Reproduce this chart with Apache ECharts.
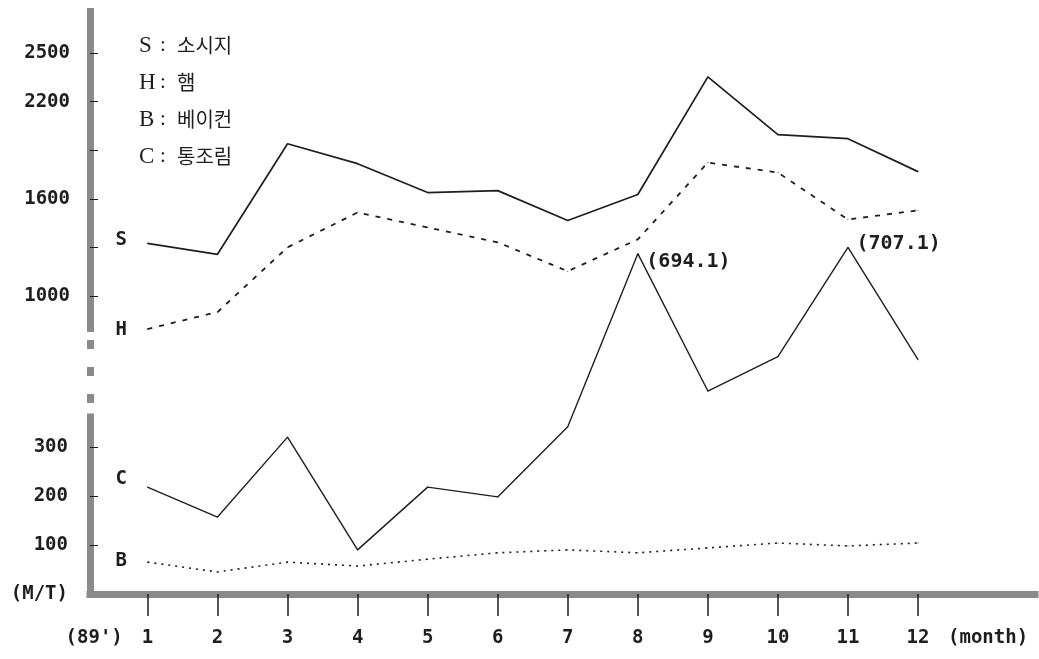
<!DOCTYPE html>
<html>
<head>
<meta charset="utf-8">
<script src="https://cdn.jsdelivr.net/npm/echarts@6/dist/echarts.min.js"></script>
<style>
html,body{margin:0;padding:0;background:#fff;}
#chart{width:1039px;height:659px;}
</style>
</head>
<body>
<div id="chart"></div>
<script>
// ---- data ----
var months = [1,2,3,4,5,6,7,8,9,10,11,12];
var sausage = [1326,1258,1940,1817,1639,1651,1467,1627,2352,1996,1971,1768]; // S
var ham     = [797,902,1301,1516,1424,1332,1154,1350,1824,1762,1473,1529];    // H
var canned  = [218,157,320,90,218,198,341,694.1,414,484,707.1,478];          // C
var bacon   = [65,45,65,57,71,84,90,84,94,104,98,104];                        // B
var upperTicks = [1000,1300,1600,1900,2200,2500];
var upperLabels = [1000,1600,2200,2500];
var lowerTicks = [100,200,300];
var lowerLabels = [0,100,200,300];
var xLabelValues = [0.24,1,2,3,4,5,6,7,8,9,10,11,12,13];
var legendKeys = ['S','H','B','C'];
var legendNames = ['소시지','햄','베이컨','통조림'];
var seriesTags = ['S','H','C','B'];

var ink = '#1e1e1e';
var axisGray = '#8a8a8a';
var monoFont = 'DejaVu Sans Mono';

function pairs(vals){ return months.map(function(m,i){ return [m, vals[i]]; }); }
function withLabels(vals, tag, tagOffset, notes){
  return pairs(vals).map(function(p,i){
    var item = {value:p};
    if(i===0){
      item.label = {show:true, position:'left', distance:20, formatter:tag, offset:tagOffset,
        fontFamily:monoFont, fontWeight:'bold', fontSize:19, color:ink};
    } else if(notes && notes[i]){
      item.label = {show:true, position:'right', distance:8, formatter:'(' + vals[i].toFixed(1) + ')',
        offset:notes[i], fontFamily:monoFont, fontWeight:'bold', fontSize:20, color:ink};
    }
    return item;
  });
}

var xMin = 0.18, xMax = 13.67;
function xAxisDef(idx, show){
  var a = {type:'value', gridIndex:idx, min:xMin, max:xMax, show:show,
    splitLine:{show:false}};
  if(show){
    a.axisLine = {show:true, onZero:false, lineStyle:{color:axisGray, width:7, cap:'square'}};
    a.axisTick = {show:true, customValues:months, length:22, lineStyle:{color:ink, width:1.5}};
    a.axisLabel = {show:true, customValues:xLabelValues, margin:35,
      fontFamily:monoFont, fontWeight:'bold', fontSize:19, color:ink,
      formatter:function(v){ if(v<1) return "(89')"; if(v>12.5) return '(month)'; return String(Math.round(v)); }};
  }
  return a;
}

var legendText = legendKeys.map(function(k,i){
  return '{l|' + k + '}{c|:}{k|' + legendNames[i] + '}';
}).join('\n');

var chart = echarts.init(document.getElementById('chart'));
chart.setOption({
  animation:false,
  backgroundColor:'#ffffff',
  title:{text:legendText, left:139, top:27, padding:0,
    textStyle:{fontSize:19, fontWeight:'normal', lineHeight:37, color:ink,
      rich:{
        l:{fontFamily:'Liberation Serif', fontWeight:'normal', fontSize:23, lineHeight:37, color:ink, width:21},
        c:{fontFamily:'Liberation Serif', fontWeight:'normal', fontSize:21, lineHeight:37, color:ink, width:17, align:'left'},
        k:{fontFamily:'Noto Sans CJK KR', fontWeight:'normal', fontSize:20, lineHeight:37, color:ink}
      }}},
  grid:[
    {left:90, right:4, top:8, height:324},
    {left:90, right:4, top:332, height:85},
    {left:90, right:4, top:417, bottom:65}
  ],
  xAxis:[xAxisDef(0,false), xAxisDef(1,false), xAxisDef(2,true)],
  yAxis:[
    {type:'value', gridIndex:0, min:779, max:2777,
      axisLine:{show:true, lineStyle:{color:axisGray, width:7, cap:'butt'}},
      axisTick:{show:true, inside:true, length:8, customValues:upperTicks, lineStyle:{color:ink, width:1}},
      axisLabel:{customValues:upperLabels, margin:20, fontFamily:monoFont, fontWeight:'bold', fontSize:19, color:ink,
        formatter:function(v){ return String(v); }},
      splitLine:{show:false}},
    {type:'value', gridIndex:1, min:0, max:1,
      axisLine:{show:true, lineStyle:{color:axisGray, width:7, cap:'butt', type:[9,18], dashOffset:13}},
      axisTick:{show:false}, axisLabel:{show:false}, splitLine:{show:false}},
    {type:'value', gridIndex:2, min:0, max:361,
      axisLine:{show:true, onZero:false, lineStyle:{color:axisGray, width:7, cap:'square'}},
      axisTick:{show:true, inside:true, length:8, customValues:lowerTicks, lineStyle:{color:ink, width:1}},
      axisLabel:{customValues:lowerLabels, margin:22, fontFamily:monoFont, fontWeight:'bold', fontSize:19, color:ink,
        formatter:function(v){ return v===0 ? '(M/T)' : String(v); }},
      splitLine:{show:false}}
  ],
  series:[
    {name:'S', type:'line', xAxisIndex:0, yAxisIndex:0, data:withLabels(sausage,seriesTags[0],[0,-3]),
      symbol:'circle', symbolSize:1, itemStyle:{color:ink}, clip:false,
      lineStyle:{color:ink, width:1.7, type:'solid'}},
    {name:'H', type:'line', xAxisIndex:0, yAxisIndex:0, data:withLabels(ham,seriesTags[1],[0,1]),
      symbol:'circle', symbolSize:1, itemStyle:{color:ink}, clip:false,
      lineStyle:{color:ink, width:1.8, type:[5,7]}},
    {name:'C', type:'line', xAxisIndex:2, yAxisIndex:2,
      data:withLabels(canned,seriesTags[2],[0,-8],{7:[0,8],10:[0,-4]}),
      symbol:'circle', symbolSize:1, itemStyle:{color:ink}, clip:false,
      lineStyle:{color:ink, width:1.4, type:'solid'}},
    {name:'B', type:'line', xAxisIndex:2, yAxisIndex:2, data:withLabels(bacon,seriesTags[3],[0,-1]),
      symbol:'circle', symbolSize:1, itemStyle:{color:ink}, clip:false,
      lineStyle:{color:ink, width:1.6, type:[2,5]}}
  ]
});
</script>
</body>
</html>
